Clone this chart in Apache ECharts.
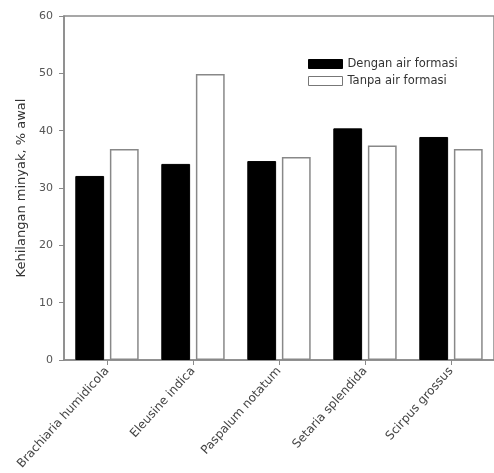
<!DOCTYPE html>
<html>
<head>
<meta charset="utf-8">
<script src="https://cdn.jsdelivr.net/npm/echarts@6/dist/echarts.min.js"></script>
<style>html,body{margin:0;padding:0;background:#fff}#c{width:494px;height:473px}</style>
</head>
<body>
<div id="c"></div>
<script>
var categories = ['Brachiaria humidicola', 'Eleusine indica', 'Paspalum notatum', 'Setaria splendida', 'Scirpus grossus'];
var dengan = [32.1, 34.2, 34.7, 40.4, 38.9];
var tanpa = [36.8, 49.9, 35.4, 37.4, 36.8];
var yTicks = [0, 10, 20, 30, 40, 50, 60];

var chart = echarts.init(document.getElementById('c'));
var font = '"DejaVu Sans", sans-serif';
chart.setOption({
  animation: false,
  backgroundColor: '#fff',
  grid: { left: 64, top: 16, right: 0, bottom: 113, show: true, borderColor: '#8a8a8a', borderWidth: 1.5, backgroundColor: 'transparent' },
  legend: {
    orient: 'vertical', left: 303, top: 53, itemWidth: 34, itemHeight: 9, itemGap: 5,
    icon: 'rect',
    textStyle: { fontFamily: font, fontSize: 11.5, color: '#333' },
    data: [
      { name: 'Dengan air formasi', itemStyle: { color: '#000', borderColor: '#000', borderWidth: 1 } },
      { name: 'Tanpa air formasi', itemStyle: { color: '#fff', borderColor: '#777', borderWidth: 1 } }
    ]
  },
  xAxis: {
    type: 'category', data: categories,
    axisLine: { lineStyle: { color: '#8a8a8a', width: 1.5 } },
    axisTick: { show: true, alignWithLabel: true, length: 5, lineStyle: { color: '#8a8a8a' } },
    axisLabel: { rotate: 48, interval: 0, margin: 9, fontFamily: font, fontSize: 12, color: '#444' }
  },
  yAxis: {
    type: 'value', min: 0, max: 60, interval: 10,
    name: 'Kehilangan minyak, % awal', nameLocation: 'middle', nameGap: 36,
    nameTextStyle: { fontFamily: font, fontSize: 13, color: '#333' },
    axisLine: { show: true, lineStyle: { color: '#8a8a8a', width: 1.5 } },
    axisTick: { show: true, length: 5, lineStyle: { color: '#8a8a8a' } },
    splitLine: { show: false },
    axisLabel: { fontFamily: font, fontSize: 11, color: '#555', margin: 11,
      formatter: function (v) { return yTicks.indexOf(v) >= 0 ? String(v) : ''; } }
  },
  series: [
    { name: 'Dengan air formasi', type: 'bar', data: dengan, barWidth: '33.5%', barGap: '20%',
      itemStyle: { color: '#000', borderColor: '#000', borderWidth: 1 } },
    { name: 'Tanpa air formasi', type: 'bar', data: tanpa, barWidth: '33.5%',
      itemStyle: { color: '#fff', borderColor: '#888', borderWidth: 1.5 } }
  ]
});
</script>
</body>
</html>
